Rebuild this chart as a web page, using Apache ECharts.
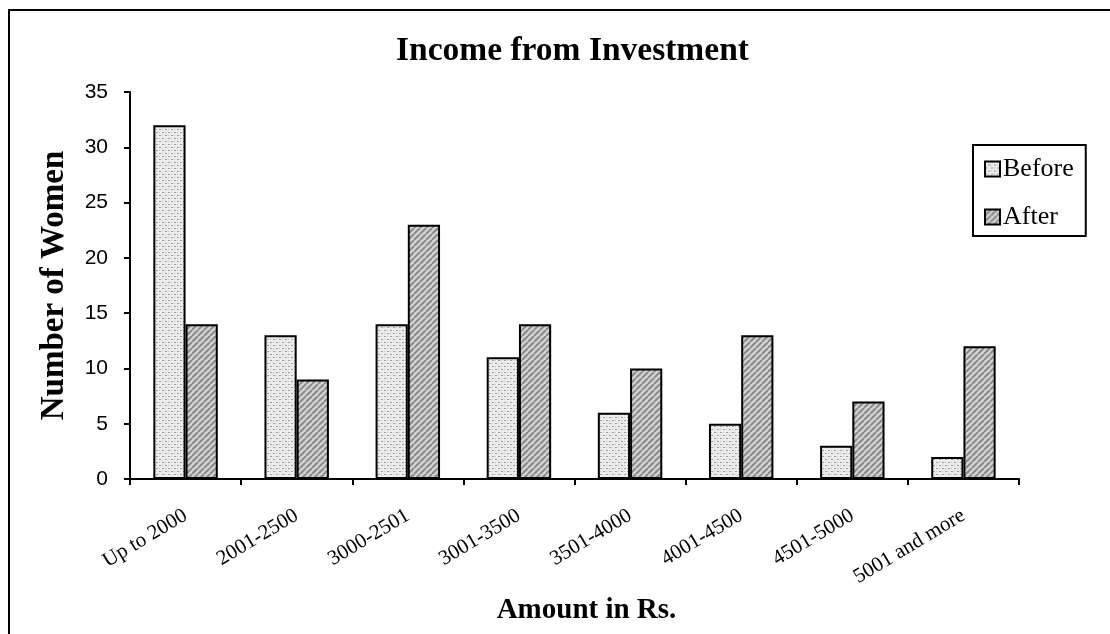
<!DOCTYPE html>
<html>
<head>
<meta charset="utf-8">
<script src="https://cdn.jsdelivr.net/npm/echarts@6/dist/echarts.min.js"></script>
<style>
  html, body { margin: 0; padding: 0; background: #fff; }
  #chart { width: 1110px; height: 634px; }
</style>
</head>
<body>
<div id="chart"></div>
<script>
// Income ranges (Rs.) and number of women in each, before and after
const categories = ['Up to 2000', '2001-2500', '3000-2501', '3001-3500', '3501-4000', '4001-4500', '4501-5000', '5001 and more'];
const beforeValues = [32, 13, 14, 11, 6, 5, 3, 2];
const afterValues = [14, 9, 23, 14, 10, 13, 7, 12];
const yTicks = [0, 5, 10, 15, 20, 25, 30, 35];

// Fill patterns: fine dotted stipple and diagonal hatching
function dottedPattern() {
  const c = document.createElement('canvas');
  c.width = 6; c.height = 6;
  const g = c.getContext('2d');
  g.fillStyle = '#ececec';
  g.fillRect(0, 0, 6, 6);
  g.fillStyle = '#a0a0a0';
  g.fillRect(0, 0, 2, 1);
  g.fillRect(3, 3, 2, 1);
  g.fillStyle = '#c4c4c4';
  g.fillRect(3, 0, 1, 1);
  g.fillRect(0, 3, 1, 1);
  return c;
}
function hatchPattern() {
  const c = document.createElement('canvas');
  const s = 6;
  c.width = s; c.height = s;
  const g = c.getContext('2d');
  g.fillStyle = '#d4d4d4';
  g.fillRect(0, 0, s, s);
  g.strokeStyle = '#8a8a8a';
  g.lineWidth = 2;
  g.beginPath();
  for (let k = -1; k <= 1; k++) {
    g.moveTo(k * s, s);
    g.lineTo(k * s + s, 0);
  }
  g.stroke();
  return c;
}

const chart = echarts.init(document.getElementById('chart'), null, { renderer: 'canvas' });

const serif = '"Liberation Serif", "DejaVu Serif", serif';
const sans = '"Liberation Sans", Arial, sans-serif';

chart.setOption({
  backgroundColor: '#ffffff',
  animation: false,
  title: {
    text: 'Income from Investment',
    left: 391,
    top: 29,
    textStyle: { fontFamily: serif, fontWeight: 'bold', fontSize: 33.5, color: '#000' }
  },
  legend: {
    data: ['Before', 'After'],
    orient: 'vertical',
    left: 973,
    top: 145,
    itemWidth: 15,
    itemHeight: 15,
    itemGap: 22,
    padding: [11, 12, 6, 11],
    icon: 'rect',
    borderColor: '#000',
    borderWidth: 2,
    textStyle: { fontFamily: serif, fontSize: 26, color: '#000', padding: [0, 0, 0, -2] }
  },
  grid: { left: 130, right: 91, top: 92, bottom: 155, containLabel: false },
  xAxis: {
    type: 'category',
    data: categories,
    name: 'Amount in Rs.',
    nameLocation: 'middle',
    nameGap: 117,
    nameTextStyle: { fontFamily: serif, fontWeight: 'bold', fontSize: 29, color: '#000', padding: [0, 0, 0, 24] },
    axisLine: { lineStyle: { color: '#000', width: 2 } },
    axisTick: { show: true, length: 6, lineStyle: { color: '#000', width: 2 } },
    axisLabel: { rotate: 31, margin: 35, fontFamily: serif, fontSize: 21, color: '#000', interval: 0 }
  },
  yAxis: {
    type: 'value',
    min: yTicks[0],
    max: yTicks[yTicks.length - 1],
    interval: yTicks[1] - yTicks[0],
    name: 'Number of Women',
    nameLocation: 'middle',
    nameGap: 59,
    nameTextStyle: { fontFamily: serif, fontWeight: 'bold', fontSize: 33, color: '#000' },
    axisLine: { show: true, lineStyle: { color: '#000', width: 2 } },
    axisTick: { show: true, length: 6, lineStyle: { color: '#000', width: 2 } },
    axisLabel: { margin: 22, fontFamily: sans, fontSize: 21, color: '#000' },
    splitLine: { show: false }
  },
  series: [
    {
      name: 'Before',
      type: 'bar',
      data: beforeValues,
      barGap: '0%',
      barCategoryGap: '42%',
      itemStyle: { color: { image: dottedPattern(), repeat: 'repeat' }, borderColor: '#000', borderWidth: 2 }
    },
    {
      name: 'After',
      type: 'bar',
      data: afterValues,
      barGap: '0%',
      barCategoryGap: '42%',
      itemStyle: { color: { image: hatchPattern(), repeat: 'repeat' }, borderColor: '#000', borderWidth: 2 }
    }
  ],
  graphic: [
    {
      type: 'rect',
      shape: { x: 9, y: 10, width: 1200, height: 700 },
      style: { fill: 'none', stroke: '#000', lineWidth: 2 },
      silent: true
    }
  ]
});
</script>
</body>
</html>
